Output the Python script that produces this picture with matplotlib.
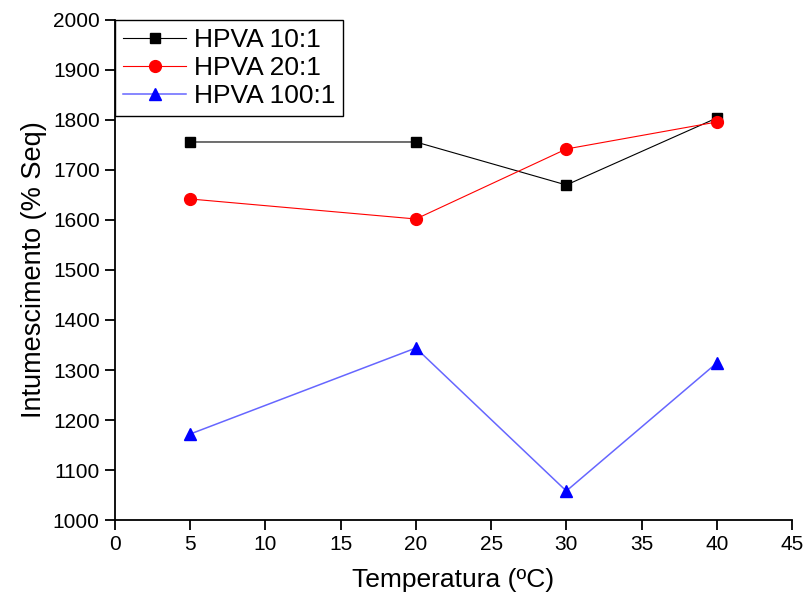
import matplotlib
matplotlib.use("Agg")
import matplotlib.pyplot as plt

plt.rcParams['font.family'] = ['Liberation Sans', 'DejaVu Sans']

temperatura = [5, 20, 30, 40]
hpva_10 = [1756, 1756, 1670, 1804]
hpva_20 = [1642, 1602, 1742, 1796]
hpva_100 = [1172, 1344, 1058, 1314]

fig = plt.figure(figsize=(8.06, 6.02), dpi=100)
ax = fig.add_axes([0.1427, 0.1362, 0.8399, 0.8306])

ax.plot(temperatura, hpva_10, color='black', marker='s', markersize=7.5, lw=0.8, label='HPVA 10:1')
ax.plot(temperatura, hpva_20, color='red', marker='o', markersize=8.5, lw=0.8, label='HPVA 20:1')
ax.plot(temperatura, hpva_100, color='#6666ff', marker='^', markersize=9, lw=1.1,
        markerfacecolor='blue', markeredgecolor='blue', label='HPVA 100:1')

ax.set_xlim(0, 45)
ax.set_ylim(1000, 2000)
ax.set_xticks(range(0, 50, 5))
ax.set_yticks(range(1000, 2100, 100))
ax.spines['top'].set_visible(False)
ax.spines['right'].set_visible(False)
for s in ['left', 'bottom']:
    ax.spines[s].set_linewidth(1.3)
ax.tick_params(direction='out', length=7, width=1.3, labelsize=15, pad=4)
ax.set_xlabel('Temperatura (ºC)', fontsize=19, labelpad=10)
ax.set_ylabel('Intumescimento (% Seq)', fontsize=19.5, labelpad=4)

leg = ax.legend(loc='upper left', bbox_to_anchor=(0.0, 1.0), fontsize=19, fancybox=False,
                framealpha=1, edgecolor='black', borderaxespad=0, handlelength=2.4,
                handletextpad=0.3, labelspacing=0.15, borderpad=0.3)
leg.get_frame().set_linewidth(1.0)

fig.savefig('out.png', dpi=100)
